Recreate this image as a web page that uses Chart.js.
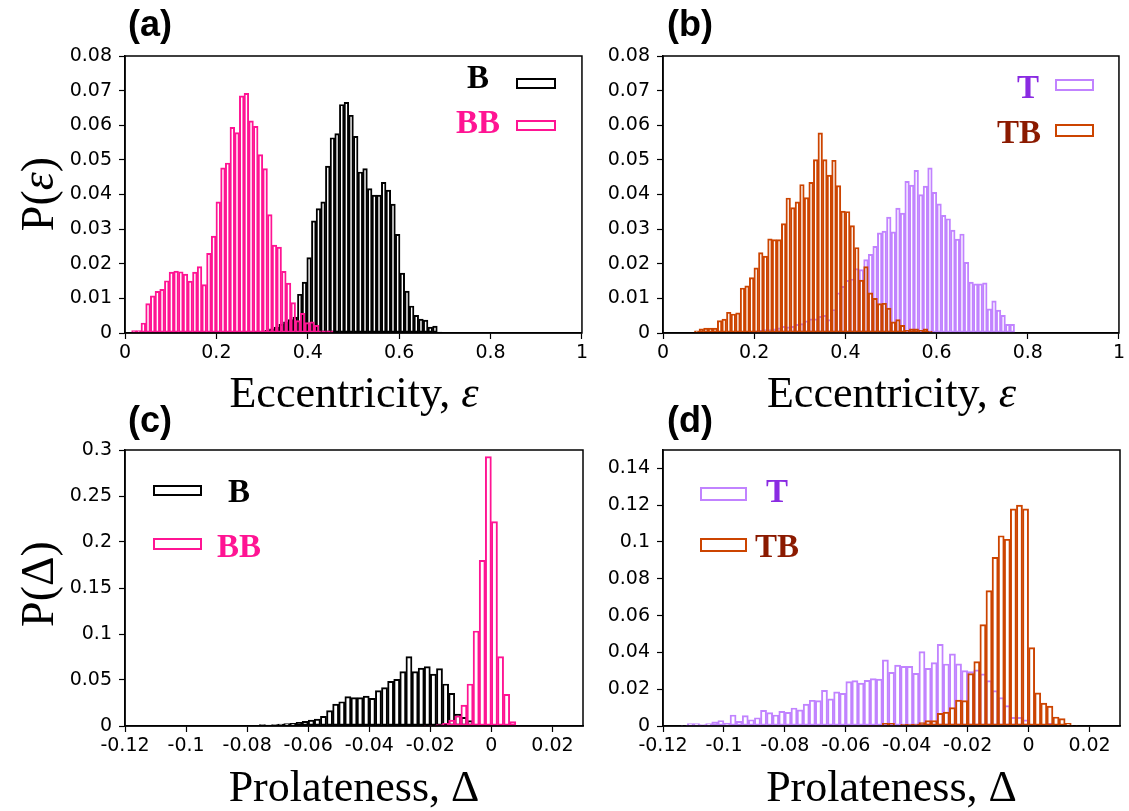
<!DOCTYPE html>
<html>
<head>
<meta charset="utf-8">
<script src="https://cdn.jsdelivr.net/npm/chart.js@4.4.0/dist/chart.umd.min.js"></script>
<style>
  body { margin: 0; background: #fff; }
  #page { position: relative; width: 1129px; height: 811px; overflow: hidden; background: #fff; }
  canvas { position: absolute; }
  .lbl { position: absolute; font: bold 36px "Liberation Sans", Arial, sans-serif; line-height: 36px; }
  .xt { position: absolute; font: 44px "Liberation Serif", "Times New Roman", serif; line-height: 44px; text-align: center; white-space: nowrap; }
  .yt { position: absolute; width: 200px; height: 46px; font: 46px "Liberation Serif", "Times New Roman", serif; line-height: 46px; text-align: center; white-space: nowrap; transform: rotate(-90deg); }
  .leg { position: absolute; font: bold 33px "Liberation Serif", "Times New Roman", serif; line-height: 33px; white-space: nowrap; transform: translateX(-50%); }
  .box { position: absolute; box-sizing: border-box; border: 2.5px solid; }
</style>
</head>
<body>
<div id="page">
  <canvas id="pa" width="586" height="337" style="left:5px;top:36px"></canvas>
  <canvas id="pb" width="585" height="337" style="left:543px;top:36px"></canvas>
  <canvas id="pc" width="586" height="336" style="left:5px;top:430px"></canvas>
  <canvas id="pd" width="585" height="336" style="left:543px;top:430px"></canvas>

  <div class="lbl" style="left:128px;top:6px">(a)</div>
  <div class="lbl" style="left:667px;top:6px">(b)</div>
  <div class="lbl" style="left:128px;top:402px">(c)</div>
  <div class="lbl" style="left:667px;top:402px">(d)</div>

  <div class="xt" style="left:125px;width:458px;top:371px">Eccentricity, <i>ε</i></div>
  <div class="xt" style="left:663px;width:457px;top:371px">Eccentricity, <i>ε</i></div>
  <div class="xt" style="left:125px;width:458px;top:765px">Prolateness, Δ</div>
  <div class="xt" style="left:663px;width:457px;top:765px">Prolateness, Δ</div>

  <div class="yt" style="left:-62px;top:171px">P(<i>ε</i>)</div>
  <div class="yt" style="left:-62px;top:561px">P(Δ)</div>

  <div class="leg" style="left:478px;top:61px;color:#000">B</div>
  <div class="box" style="left:516px;top:78px;width:40px;height:11px;border-color:#000"></div>
  <div class="leg" style="left:478px;top:106px;color:#ff1493">BB</div>
  <div class="box" style="left:516px;top:120px;width:40px;height:11px;border-color:#ff1493"></div>

  <div class="leg" style="left:1028px;top:71px;color:#8a2be2">T</div>
  <div class="box" style="left:1055px;top:79px;width:39px;height:12px;border-color:#c183ff"></div>
  <div class="leg" style="left:1019px;top:116px;color:#8b1a00">TB</div>
  <div class="box" style="left:1055px;top:124px;width:39px;height:13px;border-color:#cc4400"></div>

  <div class="box" style="left:153px;top:485px;width:49px;height:11px;border-color:#000"></div>
  <div class="leg" style="left:239px;top:475px;color:#000">B</div>
  <div class="box" style="left:153px;top:538px;width:49px;height:12px;border-color:#ff1493"></div>
  <div class="leg" style="left:239px;top:530px;color:#ff1493">BB</div>

  <div class="box" style="left:700px;top:487px;width:47px;height:14px;border-color:#c183ff"></div>
  <div class="leg" style="left:777px;top:475px;color:#8a2be2">T</div>
  <div class="box" style="left:700px;top:538px;width:47px;height:14px;border-color:#cc4400"></div>
  <div class="leg" style="left:777px;top:530px;color:#8b1a00">TB</div>
</div>

<script>
// Tick values
const eccXTicks = [0, 0.2, 0.4, 0.6, 0.8, 1];
const eccYTicks = [0, 0.01, 0.02, 0.03, 0.04, 0.05, 0.06, 0.07, 0.08];
const proXTicks = [-0.12, -0.1, -0.08, -0.06, -0.04, -0.02, 0, 0.02];
const proYTicksC = [0, 0.05, 0.1, 0.15, 0.2, 0.25, 0.3];
const proYTicksD = [0, 0.02, 0.04, 0.06, 0.08, 0.1, 0.12, 0.14];

// (a) eccentricity, B and BB (bin start + width, then heights)
const eccBStart = 0.306, eccBWidth = 0.0102;
const eccB = [0.0008, 0.0012, 0.0017, 0.0025, 0.0032, 0.0039, 0.0046, 0.0112, 0.0147, 0.0218,
  0.0324, 0.0359, 0.0379, 0.0482, 0.0564, 0.0576, 0.066, 0.0666, 0.0629, 0.0568,
  0.0465, 0.0475, 0.0417, 0.0398, 0.0398, 0.0435, 0.0413, 0.0372, 0.0285, 0.0173,
  0.0121, 0.0078, 0.0051, 0.004, 0.0037, 0.0017, 0.002, 0.0003];
const eccBBStart = 0.0145, eccBBWidth = 0.01025;
const eccBB = [0.0007, 0.0007, 0.0029, 0.0085, 0.0107, 0.012, 0.0126, 0.0151, 0.0176, 0.0179,
  0.0177, 0.017, 0.015, 0.0176, 0.0192, 0.014, 0.023, 0.028, 0.0379, 0.0477,
  0.0491, 0.0594, 0.0579, 0.0685, 0.0692, 0.0613, 0.0597, 0.0515, 0.0475, 0.0342,
  0.0254, 0.0248, 0.0178, 0.0144, 0.0088, 0.0036, 0.0057, 0.003, 0.0032, 0.0022,
  0.0006, 0.0006, 0.0006];

// (b) eccentricity, T and TB
const eccTStart = 0.1893, eccTWidth = 0.01003;
const eccT = [0.0005, 0.0006, 0.0008, 0.001, 0.001, 0.0012, 0.0015, 0.0019, 0.0018, 0.0019,
  0.0025, 0.0027, 0.0035, 0.0041, 0.0041, 0.0048, 0.0051, 0.0039, 0.0068, 0.0116,
  0.0135, 0.0152, 0.0156, 0.0186, 0.0183, 0.0212, 0.0227, 0.025, 0.0289, 0.0294,
  0.0335, 0.0292, 0.0361, 0.0346, 0.0438, 0.0427, 0.047, 0.04, 0.0424, 0.0477,
  0.0406, 0.0373, 0.034, 0.033, 0.0297, 0.0271, 0.0286, 0.0204, 0.0147, 0.0142,
  0.0142, 0.0145, 0.007, 0.0093, 0.0066, 0.0051, 0.0025, 0.0025];
const eccTBStart = 0.069, eccTBWidth = 0.01003;
const eccTB = [0.0006, 0.0012, 0.0014, 0.0014, 0.0014, 0.0036, 0.004, 0.006, 0.0055, 0.0058,
  0.013, 0.0136, 0.016, 0.0188, 0.0232, 0.0222, 0.0272, 0.027, 0.027, 0.0316,
  0.039, 0.0362, 0.0379, 0.0429, 0.0391, 0.0435, 0.0501, 0.0578, 0.0501, 0.0456,
  0.0499, 0.0426, 0.0352, 0.0351, 0.031, 0.0247, 0.0153, 0.0192, 0.0116, 0.01,
  0.0085, 0.0086, 0.0072, 0.0032, 0.0039, 0.0022, 0.0008, 0.0012, 0.0012, 0.0008,
  0.0012, 0.0005];

// (c) prolateness, B and BB
const proWidth = 0.002;
const proBStart = -0.086;
const proB = [0.0004, 0.0004, 0.0005, 0.0006, 0.0008, 0.0015, 0.001, 0.0015, 0.002, 0.0025,
  0.003, 0.004, 0.005, 0.0065, 0.0076, 0.0105, 0.0167, 0.0239, 0.0264, 0.0319,
  0.0308, 0.0308, 0.0326, 0.03, 0.0384, 0.0417, 0.0486, 0.0507, 0.0591, 0.0754,
  0.0591, 0.063, 0.0645, 0.0565, 0.0623, 0.0457, 0.0355, 0.013, 0.0094, 0.0058,
  0.0022, 0.0007];
const proBBStart = -0.022;
const proBB = [0.0007, 0.0007, 0.0015, 0.003, 0.0065, 0.011, 0.0228, 0.0457, 0.1033, 0.18,
  0.2928, 0.2221, 0.0754, 0.0344, 0.0047];

// (d) prolateness, T and TB
const proTStart = -0.114;
const proT = [0.0002, 0.0013, 0.0013, 0.0008, 0.0013, 0.0022, 0.003, 0.0016, 0.006, 0.0025,
  0.0056, 0.0034, 0.0045, 0.0085, 0.0073, 0.006, 0.008, 0.0074, 0.0098, 0.0088,
  0.0119, 0.014, 0.0138, 0.0194, 0.0148, 0.0186, 0.0177, 0.0241, 0.0247, 0.0233,
  0.0248, 0.0258, 0.0255, 0.0359, 0.0292, 0.0331, 0.0324, 0.0324, 0.0286, 0.0404,
  0.0313, 0.0345, 0.0444, 0.0337, 0.0392, 0.0338, 0.0301, 0.0296, 0.0305, 0.0283,
  0.0247, 0.0192, 0.0154, 0.0111, 0.0047, 0.0047, 0.0033, 0.0011, 0.0004, 0.0011,
  0.0015, 0.0004];
const proTBStart = -0.054;
const proTB = [0.0002, 0.0002, 0.0002, 0.0015, 0.0015, 0.0004, 0.0009, 0.0009, 0.0011, 0.0018,
  0.0029, 0.0029, 0.0069, 0.0076, 0.01, 0.0141, 0.0138, 0.0285, 0.035, 0.0551,
  0.0736, 0.0917, 0.1034, 0.1015, 0.118, 0.12, 0.118, 0.0426, 0.018, 0.0125,
  0.0108, 0.0049, 0.004, 0.0015, 0.0004];

const BLACK = "#000000", PINK = "#ff1493", PURPLE = "#c183ff", ORANGE = "#cc4400";

const fmt = (v) => String(Math.round(v * 1e6) / 1e6);
const tickFont = { family: "DejaVu Sans", size: 19 };

// full box round the plot area
const frame = {
  id: "frame",
  afterDraw(chart) {
    const { ctx, chartArea: a } = chart;
    ctx.save();
    ctx.strokeStyle = "#000";
    ctx.lineWidth = 1.5;
    ctx.strokeRect(a.left, a.top, a.right - a.left, a.bottom - a.top);
    ctx.restore();
  },
};

function hist(values, start, width, color, order, axisId) {
  return {
    data: values.map((v, i) => ({ x: start + (i + 0.5) * width, y: v })),
    xAxisID: axisId,
    order: order,
    borderColor: color,
    backgroundColor: "rgba(0,0,0,0)",
    borderWidth: 1.3,
    borderSkipped: false,
    barPercentage: 1,
    categoryPercentage: 1,
    grouped: false,
  };
}

function panel(id, xMin, xMax, xTicks, yMax, yTicks, back, front) {
  const setTicks = (arr) => (s) => { s.ticks = arr.map((v) => ({ value: v })); };
  new Chart(document.getElementById(id), {
    type: "bar",
    data: { datasets: [back, front] },
    options: {
      responsive: false,
      animation: false,
      devicePixelRatio: 1,
      layout: { padding: { left: 0, top: 20, right: 8, bottom: 0 } },
      plugins: { legend: { display: false }, tooltip: { enabled: false } },
      scales: {
        x: {
          type: "linear", min: xMin, max: xMax, offset: false,
          afterBuildTicks: setTicks(xTicks),
          afterFit: (s) => { s.height = 40; },
          ticks: { font: tickFont, color: "#000", padding: 3, maxRotation: 0, minRotation: 0, autoSkip: false, callback: fmt },
          grid: { offset: false, drawOnChartArea: false, tickLength: 6, tickColor: "#000", tickWidth: 1.2 },
          border: { color: "#000", width: 1.5 },
        },
        x2: { type: "linear", min: xMin, max: xMax, offset: false, display: false, grid: { offset: false } },
        y: {
          min: 0, max: yMax,
          afterBuildTicks: setTicks(yTicks),
          afterFit: (s) => { s.width = 120; },
          ticks: { font: tickFont, color: "#000", padding: 7, callback: fmt },
          grid: { drawOnChartArea: false, tickLength: 6, tickColor: "#000", tickWidth: 1.2 },
          border: { color: "#000", width: 1.5 },
        },
      },
    },
    plugins: [frame],
  });
}

panel("pa", 0, 1, eccXTicks, 0.08, eccYTicks,
  hist(eccB, eccBStart, eccBWidth, BLACK, 1, "x"),
  hist(eccBB, eccBBStart, eccBBWidth, PINK, 0, "x2"));
panel("pb", 0, 1, eccXTicks, 0.08, eccYTicks,
  hist(eccT, eccTStart, eccTWidth, PURPLE, 1, "x"),
  hist(eccTB, eccTBStart, eccTBWidth, ORANGE, 0, "x2"));
panel("pc", -0.12, 0.03, proXTicks, 0.3, proYTicksC,
  hist(proB, proBStart, proWidth, BLACK, 1, "x"),
  hist(proBB, proBBStart, proWidth, PINK, 0, "x2"));
panel("pd", -0.12, 0.03, proXTicks, 0.15, proYTicksD,
  hist(proT, proTStart, proWidth, PURPLE, 1, "x"),
  hist(proTB, proTBStart, proWidth, ORANGE, 0, "x2"));
</script>
</body>
</html>
